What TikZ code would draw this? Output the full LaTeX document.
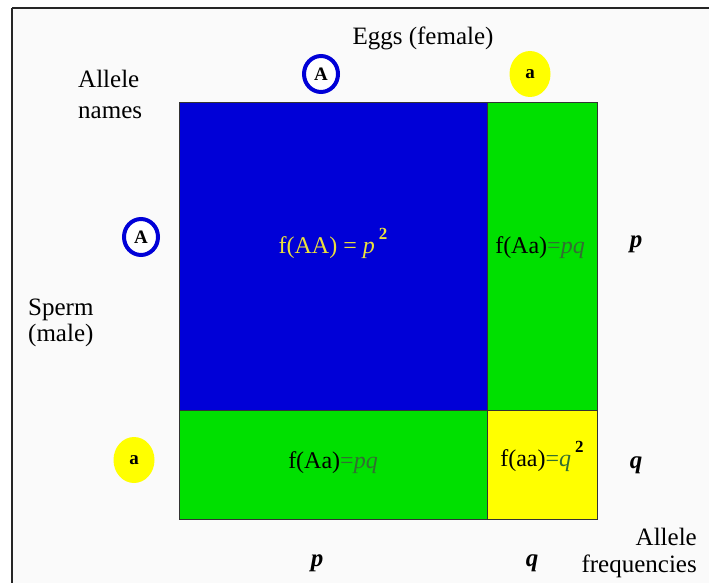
\documentclass[tikz,border=0pt]{standalone}
\usepackage{fontspec}
\setmainfont{Liberation Serif}
\usetikzlibrary{shapes.geometric}
\definecolor{cblue}{RGB}{0,0,215}
\definecolor{cgreen}{RGB}{0,224,0}
\definecolor{cyellow}{RGB}{255,255,0}
\definecolor{dgreen}{RGB}{50,110,50}
\definecolor{ytext}{RGB}{235,225,60}
\definecolor{bg}{RGB}{250,250,250}
\newcommand{\sqtwo}{\raisebox{0.55em}{\fontsize{17}{18}\selectfont\bfseries 2}}
\begin{document}
\begin{tikzpicture}[x=1pt,y=-1pt,
  cell/.style={draw=black!80,line width=0.8pt},
  lbl/.style={font=\fontsize{25}{29}\selectfont,inner sep=0pt},
  celltxt/.style={font=\fontsize{24}{28}\selectfont,inner sep=0pt,anchor=base},
  bluering/.style={ellipse,draw=cblue,line width=4pt,fill=white,minimum width=34pt,minimum height=36pt,inner sep=0pt,font=\fontsize{19}{20}\selectfont\bfseries},
  yelldot/.style={ellipse,fill=cyellow,minimum width=41pt,minimum height=46pt,inner sep=0pt,font=\fontsize{19}{20}\selectfont\bfseries},
  freq/.style={font=\fontsize{25}{27}\selectfont\bfseries\itshape,inner sep=0pt,anchor=base}]
\useasboundingbox (0,0) rectangle (709,583);
\clip (0,0) rectangle (709,583);
\fill[white] (0,0) rectangle (709,583);
\fill[bg] (12,8) rectangle (720,600);
\draw[line width=2.5pt,black!85] (12,8) -- (720,8);
\draw[line width=2.5pt,black!85] (12,8) -- (12,600);
% cells
\path[cell,fill=cblue] (179,102) rectangle (487,410);
\path[cell,fill=cgreen] (487,102) rectangle (597,410);
\path[cell,fill=cgreen] (179,410) rectangle (487,519);
\path[cell,fill=cyellow] (487,410) rectangle (597,519);
\node[celltxt,text=ytext] (AA) at (333,253) {f(AA) = \textit{p}\,\sqtwo};
\node[celltxt] (Aa1) at (540,253) {f(Aa)\textcolor{dgreen}{=\textit{pq}}};
\node[celltxt] (Aa2) at (333,468) {f(Aa)\textcolor{dgreen}{=\textit{pq}}};
\node[celltxt] (aa2) at (542,466) {f(aa)\textcolor{dgreen}{=\textit{q}}\,\sqtwo};
% labels
\node[lbl,anchor=base] (eggs) at (423,45) {Eggs (female)};
\node[lbl,anchor=base west] (names1) at (78,88) {Allele};
\node[lbl,anchor=base west] (names2) at (78,119) {names};
\node[lbl,anchor=base west] (sperm1) at (28,315) {Sperm};
\node[lbl,anchor=base west] (sperm2) at (28,341) {(male)};
\node[lbl,anchor=base east] (afreq1) at (697,545) {Allele};
\node[lbl,anchor=base east] (afreq2) at (697,572) {frequencies};
\node[bluering] (A1) at (321,74) {A};
\node[yelldot] (a1) at (530,74) {a};
\node[bluering] (A2) at (141,237) {A};
\node[yelldot] (a2) at (134,460) {a};
\node[freq] (p1) at (636,247) {p};
\node[freq] (q1) at (636,468) {q};
\node[freq] (p2) at (317,566) {p};
\node[freq] (q2) at (532,566) {q};
\end{tikzpicture}
\end{document}
